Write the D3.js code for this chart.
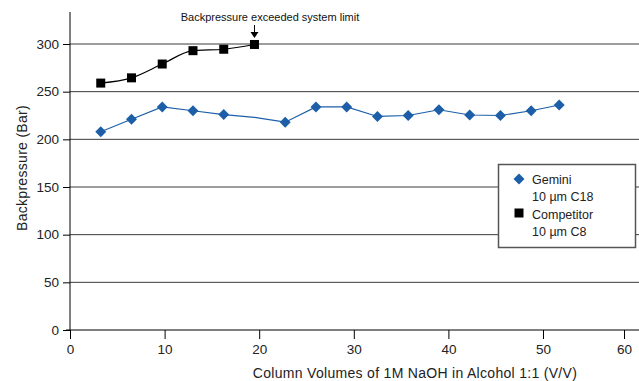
<!DOCTYPE html>
<html>
<head>
<meta charset="utf-8">
<script src="https://cdn.jsdelivr.net/npm/d3@7"></script>
<style>
  body { margin: 0; background: #fff; }
  svg { font-family: "Liberation Sans", Arial, sans-serif; }
</style>
</head>
<body>
<div id="chart"></div>
<script>
// column volumes (x) and backpressure (bar)
const gemX = [3.25, 6.5, 9.75, 13, 16.25, 19.5, 22.75, 26, 29.25, 32.5, 35.75, 39, 42.25, 45.5, 48.75, 52];
const gemY = [208, 221, 234, 230, 226, 223, 218, 234, 234, 224, 225, 231, 225.5, 225, 230, 236];
const gemHidden = [5]; // point with no marker drawn in the original
const compX = [3.25, 6.5, 9.75, 13, 16.25, 19.5];
const compY = [259, 264.5, 279, 293, 294.5, 299.5];
const xTicks = [0, 10, 20, 30, 40, 50, 60];
const yTicks = [0, 50, 100, 150, 200, 250, 300];

const width = 639, height = 381;
const svg = d3.select('#chart').append('svg')
    .attr('width', width)
    .attr('height', height);

// last tick sits a bit short in the original, so the scale bends after 50
const x = d3.scaleLinear().domain([0, 50, 60]).range([70, 543, 624]);
const y = d3.scaleLinear().domain([0, 300]).range([330, 44]);

// gridlines
svg.append('g')
    .selectAll('line')
    .data(yTicks.filter(d => d > 0))
    .join('line')
    .attr('x1', 70).attr('x2', width)
    .attr('y1', d => y(d)).attr('y2', d => y(d))
    .attr('stroke', '#3a3a3a')
    .attr('stroke-width', 1);

// y axis
const yAxis = svg.append('g')
    .attr('transform', 'translate(70,0)')
    .call(d3.axisLeft(y).tickValues(yTicks).tickSize(7).tickPadding(4));
yAxis.select('.domain').remove();
yAxis.append('line')
    .attr('x1', 0).attr('x2', 0)
    .attr('y1', 12).attr('y2', 330)
    .attr('stroke', '#000');
yAxis.selectAll('.tick line').attr('stroke', '#000');
yAxis.selectAll('.tick text')
    .attr('font-size', 13.5)
    .attr('fill', '#222')
    .attr('font-family', '"Liberation Sans", Arial, sans-serif');

// x axis
const xAxis = svg.append('g')
    .attr('transform', 'translate(0,330)')
    .call(d3.axisBottom(x).tickValues(xTicks).tickSize(9).tickPadding(5));
xAxis.select('.domain').remove();
xAxis.append('line')
    .attr('x1', 66).attr('x2', width)
    .attr('stroke', '#000').attr('stroke-width', 1.2);
xAxis.selectAll('.tick line').attr('stroke', '#000');
xAxis.selectAll('.tick text')
    .attr('font-size', 13.5)
    .attr('fill', '#222')
    .attr('font-family', '"Liberation Sans", Arial, sans-serif');

// axis titles
svg.append('text')
    .attr('x', 415).attr('y', 378)
    .attr('text-anchor', 'middle')
    .attr('font-size', 14)
    .attr('letter-spacing', 0.3)
    .attr('fill', '#222')
    .text('Column Volumes of 1M NaOH in Alcohol 1:1 (V/V)');
svg.append('text')
    .attr('transform', 'translate(27,168) rotate(-90)')
    .attr('text-anchor', 'middle')
    .attr('font-size', 14)
    .attr('letter-spacing', 0.3)
    .attr('fill', '#222')
    .text('Backpressure (Bar)');

// series
const blue = '#1c5fa8';
const gemData = gemX.map((d, i) => ({x: d, y: gemY[i], i: i}));
const compData = compX.map((d, i) => ({x: d, y: compY[i]}));

svg.append('path')
    .datum(gemData)
    .attr('fill', 'none')
    .attr('stroke', blue)
    .attr('stroke-width', 1.2)
    .attr('d', d3.line().x(d => x(d.x)).y(d => y(d.y)));

svg.append('path')
    .datum(compData)
    .attr('fill', 'none')
    .attr('stroke', '#000')
    .attr('stroke-width', 1.2)
    .attr('d', d3.line().curve(d3.curveMonotoneX).x(d => x(d.x)).y(d => y(d.y)));

const diamond = d3.symbol().type(d3.symbolSquare).size(60);
svg.append('g')
    .selectAll('path')
    .data(gemData.filter(d => !gemHidden.includes(d.i)))
    .join('path')
    .attr('transform', d => `translate(${x(d.x)},${y(d.y)}) rotate(45)`)
    .attr('d', diamond)
    .attr('fill', blue);

svg.append('g')
    .selectAll('rect')
    .data(compData)
    .join('rect')
    .attr('x', d => x(d.x) - 4.5)
    .attr('y', d => y(d.y) - 4.5)
    .attr('width', 9).attr('height', 9)
    .attr('fill', '#000');

// annotation
svg.append('text')
    .attr('x', 270).attr('y', 21)
    .attr('text-anchor', 'middle')
    .attr('font-size', 11)
    .attr('fill', '#111')
    .text('Backpressure exceeded system limit');
const ax = x(compX[compX.length - 1]);
svg.append('line')
    .attr('x1', ax).attr('x2', ax)
    .attr('y1', 25).attr('y2', 34)
    .attr('stroke', '#000');
svg.append('path')
    .attr('d', `M${ax - 4},32 L${ax + 4},32 L${ax},38 Z`)
    .attr('fill', '#000');

// legend
const legend = svg.append('g');
legend.append('rect')
    .attr('x', 498.5).attr('y', 164.5)
    .attr('width', 137).attr('height', 83)
    .attr('fill', '#fff')
    .attr('stroke', '#555')
    .attr('stroke-width', 1.5);
legend.append('path')
    .attr('transform', 'translate(519,179) rotate(45)')
    .attr('d', diamond)
    .attr('fill', blue);
legend.append('rect')
    .attr('x', 514.5).attr('y', 208.5)
    .attr('width', 9).attr('height', 9)
    .attr('fill', '#000');
const legText = [['Gemini', 183.5], ['10 µm C18', 200.5], ['Competitor', 218.5], ['10 µm C8', 235.5]];
legend.selectAll('text')
    .data(legText)
    .join('text')
    .attr('x', 532)
    .attr('y', d => d[1])
    .attr('font-size', 12.5)
    .attr('fill', '#222')
    .text(d => d[0]);
</script>
</body>
</html>
